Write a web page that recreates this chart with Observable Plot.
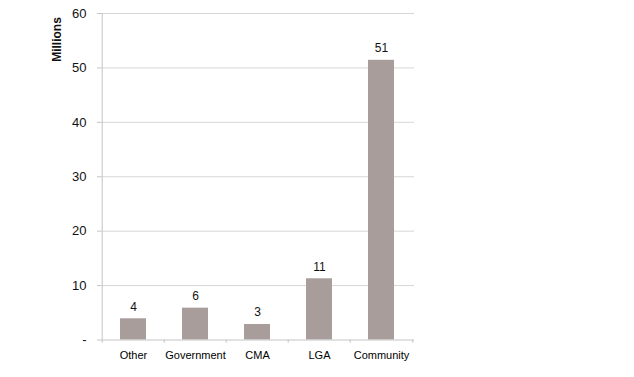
<!DOCTYPE html>
<html><head><meta charset="utf-8">
<script src="https://cdn.jsdelivr.net/npm/d3@7"></script>
<script src="https://cdn.jsdelivr.net/npm/@observablehq/plot@0.6"></script>
<style>body{margin:0;background:#fff}</style>
</head><body><div id="chart"></div>
<script>
const categories = ["Other", "Government", "CMA", "LGA", "Community"];
const values = [3.9, 5.85, 2.85, 11.25, 51.4];
const labels = ["4", "6", "3", "11", "51"];
const yTicks = [0, 10, 20, 30, 40, 50, 60];

const data = categories.map((c, i) => ({cat: c, v: values[i], label: labels[i]}));
const W = 634, H = 377, mL = 101, mR = 220, mT = 13, mB = 37.5;
const bw = (W - mL - mR) / categories.length;
const font = "'Liberation Sans', Arial, sans-serif";
const axisColor = "#c4c4c4";

const chart = Plot.plot({
  width: W, height: H,
  marginLeft: mL, marginRight: mR, marginTop: mT, marginBottom: mB,
  style: {fontFamily: font, background: "#fff"},
  x: {domain: categories, paddingInner: 0.58, paddingOuter: 0.29, label: null},
  y: {domain: [0, 60], label: null},
  marks: [
    Plot.ruleY(yTicks.filter(d => d > 0), {stroke: "#d6d6d6", strokeWidth: 1}),
    Plot.barY(data, {x: "cat", y: "v", fill: "#a89d9b"}),
    Plot.ruleY([0], {stroke: axisColor}),
    Plot.ruleX(categories, {x: d => d, y1: 0, y2: -0.6, dx: -bw / 2, stroke: axisColor}),
    Plot.ruleX([categories[categories.length - 1]], {x: d => d, y1: 0, y2: -0.6, dx: bw / 2, stroke: axisColor}),
    Plot.ruleX([categories[0]], {x: d => d, y1: 0, y2: 60, dx: -bw / 2, stroke: axisColor}),
    Plot.text(data, {x: "cat", y: "v", text: "label", dy: -12, fontSize: 12, fill: "#111"}),
    Plot.axisY({ticks: yTicks, tickFormat: d => d === 0 ? "-" : d, tickSize: 4, tickPadding: 11, fontSize: 13, stroke: axisColor, color: "#111"}),
    Plot.axisX({tickSize: 0, tickPadding: 11, fontSize: 11, color: "#000"}),
    Plot.text(["Millions"], {frameAnchor: "top-left", textAnchor: "middle", lineAnchor: "middle", dx: -44, dy: 26, rotate: -90, fontWeight: "bold", fontSize: 12, fill: "#111"})
  ]
});
document.getElementById("chart").appendChild(chart);
</script>
</body></html>
